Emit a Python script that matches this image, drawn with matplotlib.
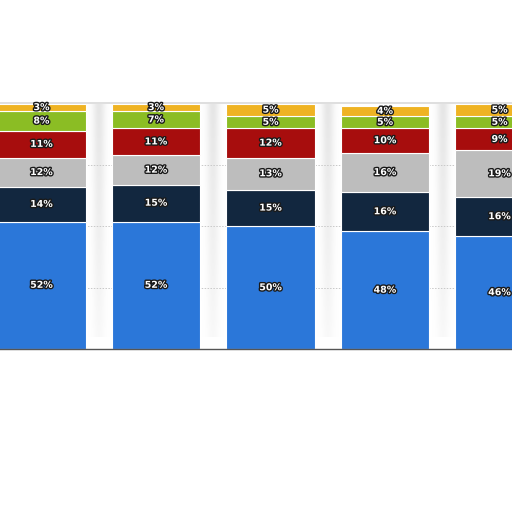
import matplotlib
matplotlib.use("Agg")
import matplotlib.pyplot as plt
import matplotlib.patheffects as pe
import numpy as np

# Share of each segment per bar (percent), bottom to top
blue = [52, 52, 50, 48, 46]
navy = [14, 15, 15, 16, 16]
gray = [12, 12, 13, 16, 19]
red = [11, 11, 12, 10, 9]
green = [8, 7, 5, 5, 5]
yellow = [3, 3, 5, 4, 5]

series = [blue, navy, gray, red, green, yellow]
colors = ["#2b77d9", "#12273f", "#bdbdbd", "#a70d0d", "#8bbd24", "#efb323"]

fig = plt.figure(figsize=(5.12, 5.12), dpi=100)
ax = fig.add_axes([0, 0, 1, 1])

x = np.arange(len(blue))

# soft shadow in the gaps between the bars
h = np.linspace(-1, 1, 40)
v = np.linspace(1, 0, 60)
prof = np.exp(-(h / 0.45) ** 2)[None, :] * (0.25 + 0.75 * v[:, None])
shade = np.zeros((60, 40, 4))
shade[..., :3] = 0.72
shade[..., 3] = 0.35 * prof
for gx in x[:-1] + 0.5:
    ax.imshow(shade, extent=(gx - 0.12, gx + 0.12, 5, 100), aspect="auto",
              origin="upper", zorder=0, interpolation="bilinear")

# dotted grid
for gy in [25, 50, 75]:
    ax.axhline(gy, color="#c8c8c8", lw=0.7, ls=(0, (1.5, 1.5)), zorder=0.5)
ax.axhline(100.5, color="#d9d9d9", lw=1.2, zorder=0.5)

bottom = np.zeros(len(blue))
for vals, col in zip(series, colors):
    vals = np.array(vals, dtype=float)
    ax.bar(x, vals, bottom=bottom, width=0.77, color=col,
           edgecolor="white", linewidth=0.8, zorder=2)
    for xi, b, val in zip(x, bottom, vals):
        ax.text(xi, b + val / 2, f"{int(val)}%", ha="center", va="center",
                fontsize=6.8, fontweight="bold", color="white", zorder=3,
                path_effects=[pe.withStroke(linewidth=2, foreground="#1a1a1a")])
    bottom += vals

ax.axhline(0, color="#555555", lw=1.0, zorder=2.5)

ax.set_xlim(-0.362, 4.109)
ax.set_ylim(-66.5, 142.4)
ax.axis("off")

fig.savefig("out.png", dpi=100)
